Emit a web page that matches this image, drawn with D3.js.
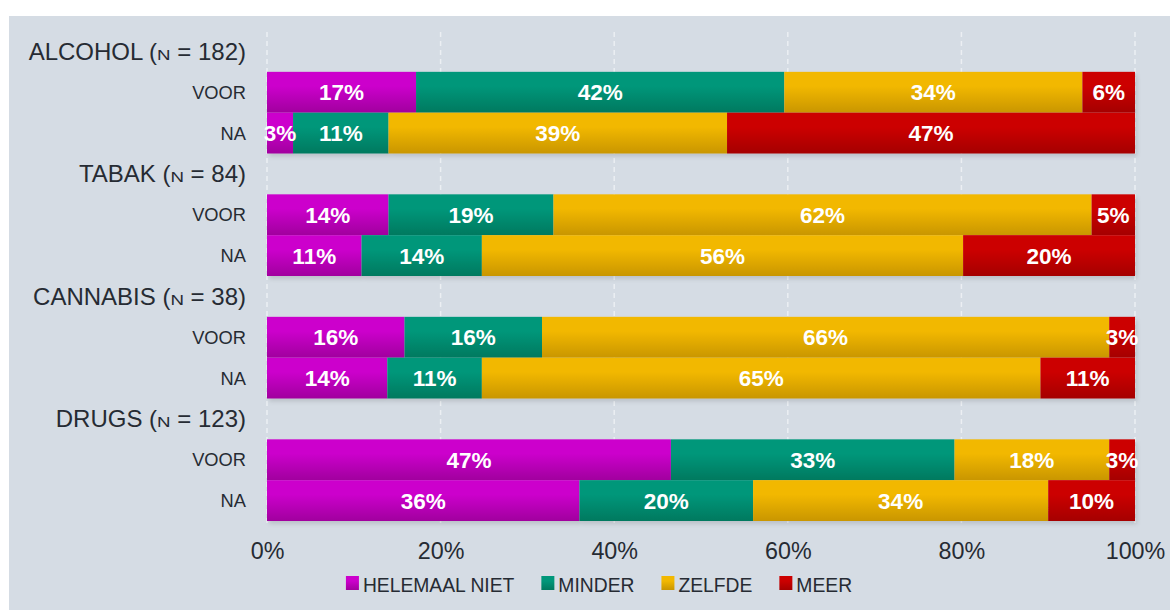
<!DOCTYPE html>
<html>
<head>
<meta charset="utf-8">
<script src="https://cdn.jsdelivr.net/npm/d3@7"></script>
<style>
  html, body { margin: 0; padding: 0; background: #ffffff; }
  svg { display: block; font-family: "Liberation Sans", Arial, sans-serif; }
</style>
</head>
<body>
<svg id="chart" width="1170" height="610"></svg>
<script>
// Substances and group sizes
const groups = ["ALCOHOL", "TABAK", "CANNABIS", "DRUGS"];
const groupN = [182, 84, 38, 123];
const periods = ["VOOR", "NA"];

// Answer categories (stack order, left to right)
const categories = ["HELEMAAL NIET", "MINDER", "ZELFDE", "MEER"];

// Percentages per row: ALCOHOL VOOR, ALCOHOL NA, TABAK VOOR, TABAK NA, ...
const helemaalNiet = [17, 3, 14, 11, 16, 14, 47, 36];
const minder       = [42, 11, 19, 14, 16, 11, 33, 20];
const zelfde       = [34, 39, 62, 56, 66, 65, 18, 34];
const meer         = [6, 47, 5, 20, 3, 11, 3, 10];

const xTicks = [0, 0.2, 0.4, 0.6, 0.8, 1];

const palette = {
  "HELEMAAL NIET": ["#cc00cc", "#a1009e"],
  "MINDER":        ["#00977a", "#00795f"],
  "ZELFDE":        ["#f2b800", "#c99600"],
  "MEER":          ["#cc0000", "#a50000"]
};

// Build the rows table
const seriesValues = [helemaalNiet, minder, zelfde, meer];
const rows = [];
groups.forEach((g, gi) => {
  periods.forEach((p, pi) => {
    const idx = gi * 2 + pi;
    const r = { key: g + "|" + p, group: g, period: p };
    categories.forEach((c, ci) => { r[c] = seriesValues[ci][idx]; });
    rows.push(r);
  });
});

// Band order: a header row followed by the two period rows for each group
const bandKeys = [];
groups.forEach(g => {
  bandKeys.push(g + "|head");
  periods.forEach(p => bandKeys.push(g + "|" + p));
});

const svg = d3.select("#chart");
const W = 1170, H = 610;
const textColor = "#262b33";

// Panel background
svg.append("rect")
  .attr("x", 9).attr("y", 16)
  .attr("width", W - 9).attr("height", H - 16)
  .attr("fill", "#d5dce4");

const x = d3.scaleLinear().domain([0, 1]).range([267, 1135]);
const y = d3.scaleBand().domain(bandKeys).range([31, 521]).padding(0);

// Gradients and shadow
const defs = svg.append("defs");
categories.forEach((c, i) => {
  const lg = defs.append("linearGradient")
    .attr("id", "grad" + i)
    .attr("x1", 0).attr("y1", 0).attr("x2", 0).attr("y2", 1);
  lg.append("stop").attr("offset", "0%").attr("stop-color", palette[c][0]);
  lg.append("stop").attr("offset", "35%").attr("stop-color", palette[c][0]);
  lg.append("stop").attr("offset", "100%").attr("stop-color", palette[c][1]);
});
const shadow = defs.append("filter").attr("id", "shadow")
  .attr("x", "-5%").attr("y", "-20%").attr("width", "110%").attr("height", "160%");
shadow.append("feDropShadow")
  .attr("dx", 2).attr("dy", 3).attr("stdDeviation", 2)
  .attr("flood-color", "#000").attr("flood-opacity", 0.12);

// Vertical dashed grid
svg.append("g").selectAll("line")
  .data(xTicks)
  .join("line")
  .attr("x1", d => x(d)).attr("x2", d => x(d))
  .attr("y1", 32).attr("y2", 524)
  .attr("stroke", "#eceff3")
  .attr("stroke-width", 1.5)
  .attr("stroke-dasharray", "5,4");

// Stacked 100% bars
const stack = d3.stack().keys(categories).offset(d3.stackOffsetExpand);
const stacked = stack(rows);

const barsG = svg.append("g").attr("filter", "url(#shadow)");
stacked.forEach((layer, li) => {
  barsG.append("g")
    .selectAll("rect")
    .data(layer)
    .join("rect")
    .attr("x", d => x(d[0]))
    .attr("y", d => y(d.data.key))
    .attr("width", d => x(d[1]) - x(d[0]))
    .attr("height", y.bandwidth())
    .attr("fill", "url(#grad" + li + ")");
});

// Value labels
const labelsG = svg.append("g");
stacked.forEach((layer, li) => {
  labelsG.append("g")
    .selectAll("text")
    .data(layer)
    .join("text")
    .attr("x", d => (x(d[0]) + x(d[1])) / 2)
    .attr("y", d => y(d.data.key) + y.bandwidth() / 2 + 8)
    .attr("text-anchor", "middle")
    .attr("fill", "#ffffff")
    .attr("font-weight", "bold")
    .attr("font-size", 22.5)
    .text(d => d.data[categories[li]] + "%");
});

// Row labels
const labelX = 246;
groups.forEach((g, gi) => {
  const t = svg.append("text")
    .attr("x", labelX)
    .attr("y", y(g + "|head") + y.bandwidth() / 2 + 8.5)
    .attr("text-anchor", "end")
    .attr("fill", textColor)
    .attr("font-size", 24);
  t.append("tspan").text(g + " (");
  t.append("tspan").attr("font-size", 14.5)
    .attr("textLength", 13.5).attr("lengthAdjust", "spacingAndGlyphs")
    .text("N");
  t.append("tspan").text(" = " + groupN[gi] + ")");
});
rows.forEach(r => {
  svg.append("text")
    .attr("x", labelX)
    .attr("y", y(r.key) + y.bandwidth() / 2 + 6.5)
    .attr("text-anchor", "end")
    .attr("fill", textColor)
    .attr("font-size", 18.3)
    .text(r.period);
});

// Bottom axis
const axis = d3.axisBottom(x)
  .tickValues(xTicks)
  .tickFormat(d3.format(".0%"))
  .tickSize(0)
  .tickPadding(0);
const axisG = svg.append("g")
  .attr("transform", "translate(0,542)")
  .call(axis);
axisG.select(".domain").remove();
axisG.selectAll("text")
  .attr("font-size", 23.3)
  .attr("font-family", "'Liberation Sans', Arial, sans-serif")
  .attr("fill", textColor)
  .attr("dy", "0.71em");

// Legend
const legend = svg.append("g");
const legendFont = 19.3;
const sw = 13;
let lx = 0;
const items = [];
categories.forEach((c, i) => {
  const g = legend.append("g");
  g.append("rect")
    .attr("x", 0).attr("y", -15.5)
    .attr("width", sw).attr("height", 14)
    .attr("fill", "url(#grad" + i + ")");
  const tx = g.append("text")
    .attr("x", sw + 4).attr("y", 0)
    .attr("fill", textColor)
    .attr("font-size", legendFont)
    .text(c);
  const w = sw + 4 + tx.node().getComputedTextLength();
  items.push({ g, w });
});
const gap = 27;
const total = d3.sum(items, d => d.w) + gap * (items.length - 1);
lx = 599 - total / 2;
items.forEach(it => {
  it.g.attr("transform", `translate(${lx},591.5)`);
  lx += it.w + gap;
});
</script>
</body>
</html>
